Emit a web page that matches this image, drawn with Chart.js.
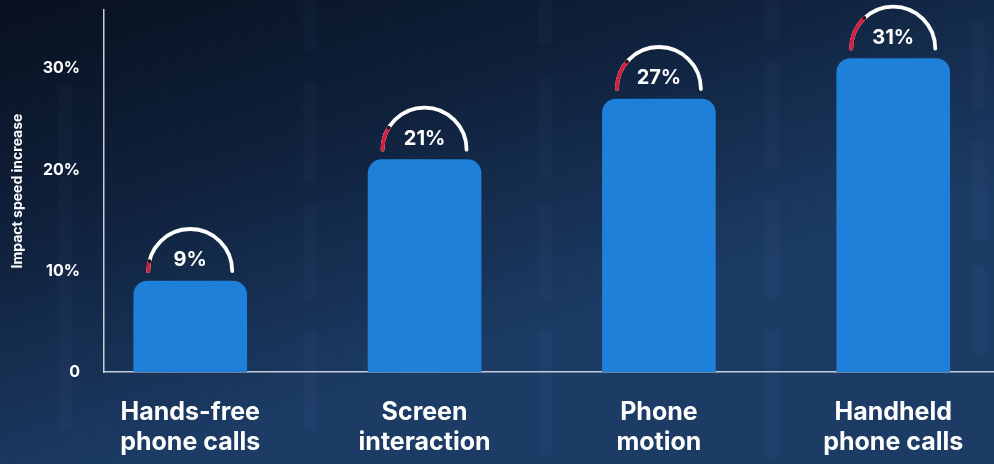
<!DOCTYPE html>
<html>
<head>
<meta charset="utf-8">
<script src="https://cdn.jsdelivr.net/npm/chart.js@4/dist/chart.umd.min.js"></script>
<style>
  html, body { margin: 0; padding: 0; background: #0f1f38; }
  #wrap { width: 994px; height: 464px; }
</style>
</head>
<body>
<div id="wrap"><canvas id="c" width="994" height="464"></canvas></div>
<script>
// Distraction types, one line per array entry
const categories = [
  ['Hands-free', 'phone calls'],
  ['Screen', 'interaction'],
  ['Phone', 'motion'],
  ['Handheld', 'phone calls']
];
// Impact speed increase, in percent
const values = [9, 21, 27, 31];
// Labelled y ticks
const yTicks = [0, 10, 20, 30];

const FONT = 'Inter, "Liberation Sans", Arial, sans-serif';

// Dark navy backdrop with faint vertical streaks
const backdrop = {
  id: 'backdrop',
  beforeDraw(chart) {
    const { ctx, width, height } = chart;
    ctx.save();
    const g = ctx.createLinearGradient(0, 0, width * 0.15, height);
    g.addColorStop(0, '#08111f');
    g.addColorStop(0.45, '#0f203a');
    g.addColorStop(1, '#1c3c66');
    ctx.fillStyle = g;
    ctx.fillRect(0, 0, width, height);
    ctx.filter = 'blur(1.5px)';
    ctx.fillStyle = 'rgba(150,180,220,0.035)';
    const streaks = [
      [58, 14, 85, 345],
      [303, 14, 0, 50], [303, 14, 82, 100], [303, 14, 205, 95], [303, 14, 330, 100],
      [538, 14, 0, 45], [538, 14, 78, 100], [538, 14, 205, 95], [538, 14, 330, 125],
      [765, 14, 0, 40], [765, 14, 60, 110], [765, 14, 200, 100], [765, 14, 330, 130],
      [972, 14, 20, 90], [972, 14, 140, 100], [972, 14, 265, 90]
    ];
    streaks.forEach(([x, w, y, h]) => ctx.fillRect(x, y, w, h));
    ctx.restore();
  }
};

// Semicircular gauge and value label above each bar
const gauges = {
  id: 'gauges',
  afterDatasetsDraw(chart) {
    const { ctx } = chart;
    const meta = chart.getDatasetMeta(0);
    ctx.save();
    meta.data.forEach((bar, i) => {
      const v = values[i];
      const cx = bar.x, cy = bar.y - 10, r = 42;
      ctx.lineWidth = 3.8;
      ctx.lineCap = 'round';
      ctx.strokeStyle = '#ffffff';
      ctx.beginPath();
      ctx.arc(cx, cy, r, Math.PI, 2 * Math.PI);
      ctx.stroke();
      const end = Math.PI + (v / 120) * Math.PI;
      ctx.strokeStyle = '#d3203f';
      ctx.beginPath();
      ctx.arc(cx, cy, r, Math.PI, end);
      ctx.stroke();
      ctx.fillStyle = '#111111';
      ctx.beginPath();
      ctx.arc(cx + r * Math.cos(end), cy + r * Math.sin(end), 1.8, 0, 2 * Math.PI);
      ctx.fill();
      ctx.fillStyle = '#ffffff';
      ctx.font = 'bold 20px ' + FONT;
      ctx.textAlign = 'center';
      ctx.textBaseline = 'middle';
      ctx.fillText(v + '%', cx, bar.y - 21);
    });
    ctx.restore();
  }
};

const noPad = (axis) => {
  axis.paddingTop = 0; axis.paddingBottom = 0;
  axis.paddingLeft = 0; axis.paddingRight = 0;
};

new Chart(document.getElementById('c'), {
  type: 'bar',
  data: {
    datasets: [{
      data: values.map((v, i) => ({ x: i, y: v })),
      backgroundColor: '#1e80d9',
      barThickness: 113,
      borderRadius: { topLeft: 14, topRight: 14, bottomLeft: 0, bottomRight: 0 },
      borderSkipped: 'bottom'
    }]
  },
  options: {
    responsive: false,
    devicePixelRatio: 1,
    animation: false,
    layout: { padding: { top: 10, right: 0, bottom: 0, left: 0 } },
    plugins: { legend: { display: false }, tooltip: { enabled: false } },
    scales: {
      x: {
        type: 'linear',
        offset: false,
        min: -0.368,
        max: 3.43,
        grid: { display: false, drawTicks: false, offset: false },
        border: { display: true, color: '#c5cdd9', width: 1.5 },
        afterBuildTicks: (axis) => { axis.ticks = categories.map((_, i) => ({ value: i })); },
        afterFit: (axis) => { axis.height = 92; noPad(axis); },
        ticks: {
          autoSkip: false,
          maxRotation: 0,
          padding: 25,
          color: '#ffffff',
          font: { family: FONT, size: 25, weight: 'bold', lineHeight: 1.22 },
          callback: (v) => categories[v]
        }
      },
      y: {
        min: 0,
        max: 35.8,
        grid: { display: false, drawTicks: false },
        border: { display: true, color: '#c5cdd9', width: 1.5 },
        afterBuildTicks: (axis) => { axis.ticks = yTicks.map(v => ({ value: v })); },
        afterFit: (axis) => { axis.width = 104; noPad(axis); },
        title: {
          display: true,
          text: 'Impact speed increase',
          color: '#ffffff',
          font: { family: FONT, size: 14, weight: 'bold' },
          padding: { top: 9, bottom: 0 }
        },
        ticks: {
          padding: 24,
          color: '#ffffff',
          font: { family: FONT, size: 16, weight: 'bold' },
          callback: (v) => v === 0 ? '0' : v + '%'
        }
      }
    }
  },
  plugins: [backdrop, gauges]
});
</script>
</body>
</html>
